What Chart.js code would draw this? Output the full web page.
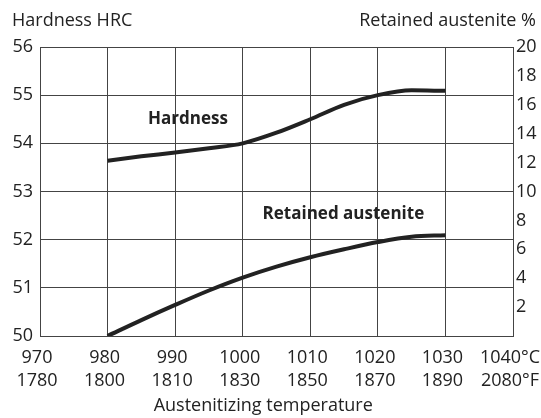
<!DOCTYPE html>
<html>
<head>
<meta charset="utf-8">
<title>Hardness and retained austenite</title>
<script src="https://cdn.jsdelivr.net/npm/chart.js@4.4.1/dist/chart.umd.min.js"></script>
<style>
  body { margin: 0; background: #fff; }
  canvas { display: block; }
</style>
</head>
<body>
<canvas id="myChart" width="541" height="418"></canvas>
<script>
// austenitizing temperature in °C, every 5 degrees
const temperatures = [980, 985, 990, 995, 1000, 1005, 1010, 1015, 1020, 1025, 1030];
const hardness = [53.64, 53.73, 53.81, 53.9, 54.0, 54.22, 54.5, 54.8, 55.0, 55.1, 55.09];
const retainedAustenite = [0, 1.1, 2.15, 3.15, 4.04, 4.8, 5.45, 6.0, 6.5, 6.87, 6.97];

// tick labels of the temperature axis (two rows)
const celsiusTicks = [970, 980, 990, 1000, 1010, 1020, 1030, 1040];
const fahrenheitTicks = [1780, 1800, 1810, 1830, 1850, 1870, 1890, 2080];

// axis ranges
const hardnessRange = [50, 56];
const austeniteRange = [0, 20];

// where the curve names sit (temperature, axis value)
const hardnessLabelAt = [991.9, 54.5];
const austeniteLabelAt = [1014.9, 8.4];

const ink = '#222';
const gridColor = '#444';
const fontFamily = '"Open Sans", sans-serif';

// the headings and curve names
const textPlugin = {
  id: 'texts',
  afterDraw(chart) {
    const ctx = chart.ctx;
    const area = chart.chartArea;
    const x = chart.scales.x;
    ctx.save();
    ctx.fillStyle = ink;
    ctx.textBaseline = 'middle';
    ctx.font = '18px ' + fontFamily;
    ctx.textAlign = 'left';
    ctx.fillText('Hardness HRC', 12, 21);
    ctx.textAlign = 'right';
    ctx.fillText('Retained austenite %', 536, 21);
    ctx.textAlign = 'center';
    ctx.fillText('Austenitizing temperature', area.left + area.width * 0.472, 406);

    ctx.font = 'bold 17px ' + fontFamily;
    ctx.fillText('Hardness', x.getPixelForValue(hardnessLabelAt[0]),
      chart.scales.y.getPixelForValue(hardnessLabelAt[1]));
    ctx.fillText('Retained austenite', x.getPixelForValue(austeniteLabelAt[0]),
      chart.scales.y2.getPixelForValue(austeniteLabelAt[1]));
    ctx.restore();
  }
};

const myChart = document.getElementById('myChart');

let lineChart = new Chart(myChart, {
  type: 'line',
  data: {
    datasets: [{
      label: 'Hardness',
      data: temperatures.map((t, i) => ({x: t, y: hardness[i]})),
      yAxisID: 'y',
      borderColor: ink,
      borderWidth: 4,
      pointRadius: 0,
      cubicInterpolationMode: 'monotone'
    }, {
      label: 'Retained austenite',
      data: temperatures.map((t, i) => ({x: t, y: retainedAustenite[i]})),
      yAxisID: 'y2',
      borderColor: ink,
      borderWidth: 4,
      pointRadius: 0,
      cubicInterpolationMode: 'monotone'
    }]
  },
  options: {
    responsive: false,
    animation: false,
    layout: { padding: { top: 47, left: 0, right: 0, bottom: 0 } },
    plugins: {
      legend: { display: false },
      tooltip: { enabled: false }
    },
    font: { family: fontFamily },
    scales: {
      x: {
        type: 'linear',
        min: celsiusTicks[0],
        max: celsiusTicks[celsiusTicks.length - 1],
        afterBuildTicks: s => { s.ticks = celsiusTicks.map(v => ({value: v})); },
        afterFit: s => { s.height = 82; s.paddingLeft = 0; s.paddingRight = 0; },
        grid: { color: gridColor, lineWidth: 1, drawTicks: false },
        border: { color: gridColor, width: 1 },
        ticks: {
          color: ink,
          padding: 10,
          labelOffset: -3,
          maxRotation: 0,
          autoSkip: false,
          font: { family: fontFamily, size: 18, lineHeight: 1.28 },
          callback: (v) => {
            const i = celsiusTicks.indexOf(v);
            const last = i === celsiusTicks.length - 1;
            return [v + (last ? '°C' : ''), fahrenheitTicks[i] + (last ? '°F' : '')];
          }
        }
      },
      y: {
        position: 'left',
        min: hardnessRange[0],
        max: hardnessRange[1],
        afterFit: s => { s.width = 40; },
        grid: { color: gridColor, lineWidth: 1, drawTicks: false },
        border: { color: gridColor, width: 1 },
        ticks: {
          stepSize: 1,
          color: ink,
          padding: 7,
          font: { family: fontFamily, size: 18 }
        }
      },
      y2: {
        position: 'right',
        min: austeniteRange[0],
        max: austeniteRange[1],
        afterFit: s => { s.width = 28; },
        grid: { display: false, drawTicks: false },
        border: { color: gridColor, width: 1 },
        ticks: {
          stepSize: 2,
          color: ink,
          padding: 3,
          font: { family: fontFamily, size: 18 },
          callback: v => v === 0 ? '' : v
        }
      }
    }
  },
  plugins: [textPlugin]
});
</script>
</body>
</html>
